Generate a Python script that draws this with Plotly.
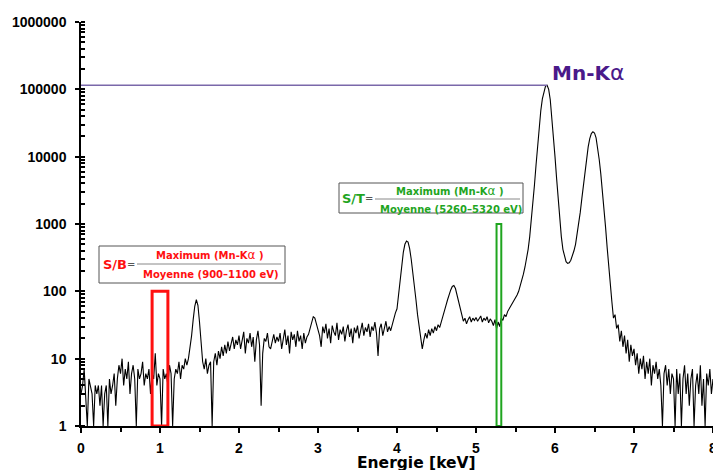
import plotly.graph_objects as go

# ---------------- data ----------------
E_START_KEV = 0.0
E_STEP_KEV = 0.02

counts_0_0p5 = [3, 4, 7, 3, 1, 5, 4, 3, 1, 4, 3, 4, 2, 4, 1, 3, 4, 1, 5, 3, 4, 6, 2, 5, 8]
counts_0p5_1 = [6, 10, 4, 7, 5, 9, 3, 6, 8, 5, 1, 7, 5, 6, 9, 4, 6, 5, 7, 3, 6, 5, 12, 4, 6]
counts_1_1p5 = [5, 1, 7, 5, 6, 4, 8, 6, 1, 5, 7, 6, 9, 5, 8, 7, 10, 8, 10, 14, 22, 38, 60, 75, 62]
counts_1p5_2 = [35, 16, 9, 7, 10, 6, 8, 9, 1, 9, 12, 8, 13, 10, 15, 11, 16, 12, 18, 13, 17, 21, 14, 19, 16]
counts_2_2p5 = [22, 14, 18, 25, 12, 20, 17, 24, 15, 21, 9, 19, 26, 16, 2, 12, 20, 18, 24, 15, 14, 19, 23, 17, 21]
counts_2p5_3 = [18, 24, 14, 20, 27, 16, 22, 12, 25, 19, 23, 15, 26, 18, 22, 14, 24, 17, 21, 23, 28, 33, 42, 40, 33]
counts_3_3p5 = [28, 22, 15, 30, 24, 33, 20, 28, 17, 31, 25, 22, 34, 19, 27, 23, 30, 18, 26, 32, 21, 28, 17, 29, 24]
counts_3p5_4 = [31, 20, 27, 34, 22, 29, 25, 33, 21, 30, 26, 35, 24, 11, 28, 33, 22, 30, 36, 25, 30, 26, 33, 38, 48]
counts_4_4p5 = [55, 90, 160, 260, 380, 500, 560, 540, 430, 300, 200, 120, 75, 45, 30, 22, 14, 19, 24, 20, 27, 22, 28, 24, 30]
counts_4p5_5 = [26, 32, 29, 36, 42, 50, 62, 75, 90, 105, 118, 122, 110, 88, 66, 52, 42, 36, 40, 33, 38, 42, 35, 40, 37]
counts_5_5p5 = [41, 36, 39, 43, 35, 40, 37, 42, 34, 39, 36, 31, 38, 28, 35, 30, 40, 37, 45, 42, 50, 55, 58, 65, 70]
counts_5p5_6 = [78, 88, 100, 120, 145, 180, 230, 300, 420, 650, 1100, 2000, 3800, 7500, 15000, 28000, 48000,
                72000, 95000, 112000, 115000, 100000, 70000, 40000, 19000]
counts_6_6p5 = [10000, 4800, 2200, 1150, 650, 420, 320, 275, 260, 265, 290, 330, 400, 500, 700, 1000, 1500,
                2400, 3800, 6000, 9500, 14000, 18500, 22000, 23500]
counts_6p5_7 = [22500, 19000, 14000, 9000, 5500, 3200, 1800, 900, 450, 220, 120, 70, 40, 45, 28, 32, 18, 26,
                15, 22, 12, 19, 9, 16, 11]
counts_7_7p5 = [14, 8, 12, 6, 10, 7, 11, 5, 9, 6, 10, 4, 8, 6, 9, 5, 7, 4, 1, 6, 8, 4, 7, 3, 6]
counts_7p5_8 = [5, 1, 7, 3, 6, 1, 5, 8, 3, 6, 2, 5, 7, 1, 4, 6, 3, 8, 2, 5, 1, 6, 4, 7, 3, 5]

counts = (counts_0_0p5 + counts_0p5_1 + counts_1_1p5 + counts_1p5_2 + counts_2_2p5 + counts_2p5_3
          + counts_3_3p5 + counts_3p5_4 + counts_4_4p5 + counts_4p5_5 + counts_5_5p5 + counts_5p5_6
          + counts_6_6p5 + counts_6p5_7 + counts_7_7p5 + counts_7p5_8)
energies = [round(E_START_KEV + i * E_STEP_KEV, 3) for i in range(len(counts))]

# background window (S/B) and trough window (S/T), keV, and box heights
SB_WINDOW_KEV = [0.9, 1.1]
SB_BOX_TOP = 100
ST_WINDOW_KEV = [5.26, 5.32]
ST_BOX_TOP = 1000

y_tick_vals = [1, 10, 100, 1000, 10000, 100000, 1000000]
y_tick_text = ["1", "10", "100", "1000", "10000", "100000", "1000000"]
x_tick_vals = [0, 1, 2, 3, 4, 5, 6, 7, 8]
x_title = "Energie [keV]"

peak_val = max(counts)
peak_e = energies[counts.index(peak_val)]

RED = "#ff1010"
GREEN = "#1fa51f"
PURPLE_LINE = "#7a68aa"
PURPLE_TEXT = "#4a1a8a"
TXT_FONT = "DejaVu Sans, Verdana, sans-serif"
TICK_FONT = "Liberation Sans, Arial, sans-serif"

fig = go.Figure()

fig.add_trace(go.Scatter(x=energies, y=counts, mode="lines",
                         line=dict(color="black", width=1.1), showlegend=False,
                         hoverinfo="skip"))

# Mn-Ka maximum line
fig.add_trace(go.Scatter(x=[E_START_KEV, peak_e], y=[peak_val, peak_val], mode="lines",
                         line=dict(color=PURPLE_LINE, width=1.5), showlegend=False))


def box(window, top, color, width):
    a, b = window
    return go.Scatter(x=[a, a, b, b, a], y=[1, top, top, 1, 1], mode="lines",
                      line=dict(color=color, width=width), showlegend=False,
                      cliponaxis=False)


fig.add_trace(box(SB_WINDOW_KEV, SB_BOX_TOP, RED, 3))
fig.add_trace(box(ST_WINDOW_KEV, ST_BOX_TOP, GREEN, 2))

W, H = 713, 470
L, R, T, B = 81, 0, 22, 44
PW, PH = W - L - R, H - T - B


def px(x):
    return (x - L) / PW


def py(y):
    return (H - B - y) / PH


shapes = []
annotations = []


def txt(x, y, text, size, color, xanchor="center"):
    annotations.append(dict(xref="paper", yref="paper", x=px(x), y=py(y), text=text,
                            showarrow=False, xanchor=xanchor, yanchor="middle",
                            font=dict(family=TXT_FONT, size=size, color=color)))


def formula(x0, x1, y0, y1, label, lx, eqx, bar0, bar1, bary, numx, numy, denx, deny, den, color):
    shapes.append(dict(type="rect", xref="paper", yref="paper", x0=px(x0), x1=px(x1),
                       y0=py(y1), y1=py(y0), line=dict(color="#555555", width=1),
                       fillcolor="white", layer="above"))
    shapes.append(dict(type="line", xref="paper", yref="paper", x0=px(bar0), x1=px(bar1),
                       y0=py(bary), y1=py(bary), line=dict(color="#888888", width=1)))
    txt(lx, y0 + (y1 - y0) / 2, "<b>" + label + "</b>", 13, color)
    txt(eqx, bary, "=", 10, "#555555")
    txt(numx, numy, "<b>Maximum (Mn-K</b><span style='font-size:12px'>α</span><b> )</b>", 10, color)
    txt(denx, deny, "<b>" + den + "</b>", 10, color)


formula(99, 285, 246, 283, "S/B", 115, 131, 137, 281, 264, 210, 255, 210, 274,
        "Moyenne (900–1100 eV)", RED)
formula(339, 523, 183, 213, "S/T", 353, 369, 375, 520, 199, 450, 191, 451, 209,
        "Moyenne (5260–5320 eV)", GREEN)

txt(550, 72, "<b>Mn-K</b><span style='font-size:22px'>α</span>", 20, PURPLE_TEXT, xanchor="left")
txt(416, 463, "<b>" + x_title + "</b>", 15.5, "black")

fig.update_layout(
    width=W, height=H, margin=dict(l=L, r=R, t=T, b=B, autoexpand=False),
    paper_bgcolor="white", plot_bgcolor="white",
    shapes=shapes, annotations=annotations, showlegend=False,
    xaxis=dict(range=[0, 8], tickvals=x_tick_vals, ticks="outside", ticklen=5, automargin=False,
               tickcolor="black", tickwidth=1.5, showline=True, linecolor="black", linewidth=1.5,
               showgrid=False, zeroline=False, ticklabelstandoff=3, ticklabeloverflow="allow",
               tickfont=dict(family=TICK_FONT, size=14, color="black", weight="bold"),
               minor=dict(dtick=0.5, ticks="outside", ticklen=4, tickcolor="black", showgrid=False)),
    yaxis=dict(type="log", range=[0, 6], tickvals=y_tick_vals, ticktext=y_tick_text, automargin=False,
               ticks="outside", ticklen=4, tickcolor="black", tickwidth=1.5, ticklabelstandoff=6,
               showline=True, linecolor="black", linewidth=1.5, showgrid=False, zeroline=False,
               tickfont=dict(family=TICK_FONT, size=14, color="black", weight="bold"),
               minor=dict(dtick="D1", ticks="inside", ticklen=4, tickcolor="black", showgrid=False)),
)

fig.write_html("out.html", config={"displayModeBar": False},
               post_script="document.body.style.margin='0px';")
